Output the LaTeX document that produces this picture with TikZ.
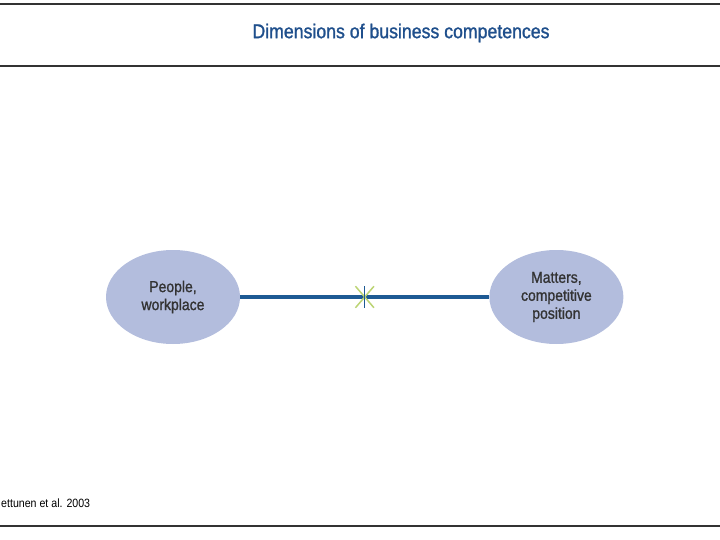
\documentclass[tikz,border=0pt]{standalone}
\usepackage{fontspec}
\setmainfont{Liberation Sans}
\newfontfamily\narrowsans[FakeStretch=0.885]{Liberation Sans}
\newfontfamily\narrowheavy[FakeStretch=0.885, FakeBold=1.2]{Liberation Sans}
\usepackage{xcolor}
\usepackage{tikz}
\usetikzlibrary{
    positioning,
    shapes.geometric,
    shapes.misc
}
\definecolor{titleblue}{HTML}{1F4F8C}
\definecolor{ovalfill}{HTML}{B3BDDD}
\definecolor{linkblue}{HTML}{1D5A94}
\definecolor{crossgreen}{HTML}{BCD474}
\definecolor{rulegrey}{HTML}{333333}
\definecolor{textgrey}{HTML}{333333}
\tikzset{
    dimension/.style={
        ellipse, fill=ovalfill, draw=none,
        minimum width=134pt, minimum height=94pt,
        inner sep=0pt, align=center, text=textgrey,
        font=\narrowheavy\fontsize{15.8}{18}\selectfont
    },
    link/.style={
        draw=linkblue, line width=3.2pt
    },
    crossmark/.style={
        cross out, draw=crossgreen, line width=1.5pt,
        minimum width=17pt, minimum height=20pt, inner sep=0pt
    },
    frame rule/.style={
        draw=rulegrey, line width=1.2pt
    },
    heading/.style={
        text=titleblue, font=\narrowheavy\fontsize{20}{24}\selectfont
    },
    source/.style={
        text=black, anchor=west, inner sep=0pt,
        font=\narrowsans\fontsize{12}{14}\selectfont
    },
}
\begin{document}
\begin{tikzpicture}[x=1pt, y=-1pt]
    \useasboundingbox (0,0) rectangle (720,540);

    % Title band
    \coordinate (bandtl) at (0,4);
    \coordinate (bandtr) at (720,4);
    \coordinate (bandbl) at (0,66);
    \coordinate (bandbr) at (720,66);
    \draw[frame rule] (bandtl) -- (bandtr);
    \draw[frame rule] (bandbl) -- (bandbr);
    \node[heading] (title) at (401,33) {Dimensions of business competences};

    % Dimensions
    \node[dimension] (people) at (173,297) {People,\\workplace};
    \node[dimension, right=249pt of people] (matters) {Matters,\\competitive\\position};

    % Link with cross mark
    \draw[link] (people) -- coordinate[pos=0.5] (mid) (matters);
    \node[crossmark] (cross) at (mid) {};
    \draw[draw=linkblue, line width=1.5pt] (cross.north) -- (cross.south);

    % Source and footer rule
    \node[source] (ref) at (1,503) {ettunen et al. 2003};
    \coordinate (footl) at (0,526);
    \coordinate (footr) at (720,526);
    \draw[frame rule] (footl) -- (footr);

\end{tikzpicture}
\end{document}
